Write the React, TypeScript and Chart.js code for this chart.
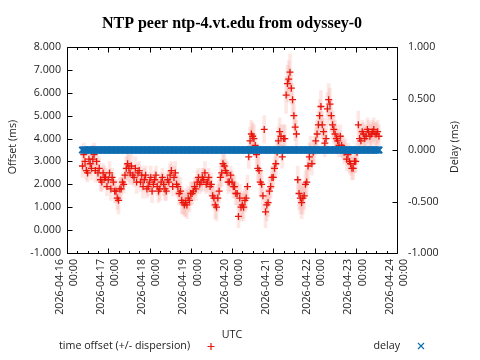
import React, { useEffect, useRef } from 'react';
import { Chart, registerables } from 'chart.js';

Chart.register(...registerables);

const chartTitle = 'NTP peer ntp-4.vt.edu from odyssey-0';
const dayLabels = ['2026-04-16', '2026-04-17', '2026-04-18', '2026-04-19', '2026-04-20', '2026-04-21', '2026-04-22', '2026-04-23', '2026-04-24'];
const timeLabel = '00:00';
const offsetTitle = 'Offset (ms)';
const delayTitle = 'Delay (ms)';
const xTitle = 'UTC';
const offsetLegend = 'time offset (+/- dispersion)';
const delayLegend = 'delay';

// samples: first at 2026-04-16 09:00, every 45 minutes (hours since 04-16 00:00)
const firstSampleHour = 9;
const sampleStepHours = 0.75;

const offsetMs = [
  2.8, 3.3, 3.0, 2.6, 2.5, 3.1, 2.9, 2.7, 3.1, 3.3,
  2.6, 3.0, 2.5, 2.7, 2.2, 2.1, 2.5, 2.3, 2.3, 1.9,
  2.2, 2.5, 1.8, 2.3, 2.1, 1.7, 1.7, 1.4, 1.3, 1.8,
  1.8, 2.1, 2.0, 2.4, 2.7, 2.9, 2.7, 2.5, 2.8, 2.4,
  2.3, 2.7, 2.1, 2.5, 2.6, 2.1, 2.4, 1.9, 2.2, 2.4,
  1.8, 1.9, 2.1, 2.3, 1.7, 2.0, 2.2, 2.4, 1.9, 1.7,
  1.8, 2.1, 2.3, 2.0, 1.8, 1.7, 2.2, 2.1, 2.4, 2.6,
  1.9, 2.3, 2.5, 2.0, 1.9, 1.6, 1.7, 1.3, 1.2, 1.1,
  1.2, 1.1, 1.4, 1.3, 1.6, 1.6, 1.7, 1.9, 1.8, 2.1,
  2.3, 2.0, 2.1, 2.3, 2.2, 2.5, 2.0, 2.1, 2.3, 1.9,
  2.0, 1.5, 1.4, 1.1, 1.0, 1.4, 1.7, 2.3, 2.5, 2.9,
  2.8, 2.6, 2.5, 2.1, 2.1, 2.4, 2.1, 1.9, 1.9, 1.6,
  1.6, 0.6, 1.4, 1.0, 1.1, 1.0, 1.3, 1.4, 1.9, 3.2,
  3.9, 4.2, 4.1, 4.0, 3.7, 3.3, 2.7, 2.6, 2.1, 2.0,
  1.5, 4.4, 0.8, 1.1, 1.2, 1.7, 1.9, 2.3, 2.3, 2.7,
  2.9, 3.4, 3.9, 4.3, 4.1, 3.2, 4.0, 4.0, 5.9, 6.4,
  6.6, 6.9, 6.2, 5.7, 5.0, 4.5, 4.2, 2.2, 1.6, 1.4,
  1.2, 1.4, 1.5, 2.0, 2.1, 2.8, 3.2, 3.5, 2.9, 3.4,
  3.5, 3.9, 4.2, 4.6, 5.0, 5.4, 4.6, 4.3, 3.8, 4.0,
  5.3, 5.7, 5.5, 5.0, 4.6, 4.4, 4.2, 4.0, 3.9, 3.7,
  4.1, 3.7, 3.6, 3.4, 3.5, 3.1, 3.3, 3.0, 2.9, 2.7,
  2.7, 3.0, 3.0, 3.4, 4.6, 4.0, 3.9, 4.3, 4.2, 4.0,
  4.1, 4.4, 4.3, 4.1, 4.2, 4.3, 4.4, 4.2, 4.2, 4.3,
  4.1,
];

const dispersionMs = [
  0.5, 0.5, 0.5, 0.4, 0.4, 0.5, 0.5, 0.5, 0.6, 0.5,
  0.5, 0.4, 0.4, 0.5, 0.5, 0.4, 0.4, 0.5, 0.4, 0.4,
  0.4, 0.5, 0.5, 0.4, 0.4, 0.5, 0.5, 0.5, 0.6, 0.5,
  0.5, 0.4, 0.4, 0.5, 0.5, 0.6, 0.6, 0.5, 0.5, 0.4,
  0.4, 0.5, 0.5, 0.4, 0.4, 0.4, 0.4, 0.5, 0.5, 0.4,
  0.4, 0.4, 0.4, 0.5, 0.5, 0.4, 0.4, 0.4, 0.4, 0.5,
  0.5, 0.4, 0.4, 0.5, 0.5, 0.4, 0.4, 0.5, 0.5, 0.4,
  0.4, 0.5, 0.5, 0.5, 0.5, 0.5, 0.6, 0.6, 0.5, 0.5,
  0.6, 0.6, 0.5, 0.5, 0.5, 0.5, 0.4, 0.4, 0.5, 0.5,
  0.4, 0.4, 0.4, 0.4, 0.5, 0.5, 0.4, 0.4, 0.4, 0.4,
  0.5, 0.5, 0.5, 0.6, 0.6, 0.6, 0.5, 0.5, 0.6, 0.6,
  0.5, 0.5, 0.5, 0.5, 0.4, 0.4, 0.5, 0.5, 0.5, 0.5,
  0.5, 0.5, 0.6, 0.6, 0.6, 0.6, 0.5, 0.5, 0.5, 0.5,
  0.6, 0.6, 0.6, 0.6, 0.5, 0.5, 0.6, 0.6, 0.6, 0.6,
  0.6, 0.6, 0.7, 0.7, 0.6, 0.6, 0.5, 0.5, 0.5, 0.5,
  0.6, 0.6, 0.6, 0.6, 0.5, 0.5, 0.6, 0.6, 0.8, 0.8,
  0.8, 0.8, 0.7, 0.7, 0.6, 0.6, 0.6, 0.6, 0.7, 0.7,
  0.7, 0.7, 0.6, 0.6, 0.6, 0.6, 0.6, 0.6, 0.5, 0.5,
  0.6, 0.6, 0.6, 0.6, 0.7, 0.7, 0.6, 0.6, 0.6, 0.6,
  0.7, 0.7, 0.7, 0.7, 0.6, 0.6, 0.6, 0.6, 0.5, 0.5,
  0.5, 0.5, 0.5, 0.5, 0.5, 0.5, 0.5, 0.5, 0.5, 0.5,
  0.5, 0.5, 0.5, 0.5, 0.6, 0.6, 0.5, 0.5, 0.5, 0.5,
  0.5, 0.5, 0.5, 0.5, 0.5, 0.5, 0.5, 0.5, 0.5, 0.5,
  0.5,
];

const delayMs = [
  0, 0, 0, 0, 0, 0, 0, 0, 0, 0, 0, 0, 0, 0, 0, 0, 0, 0, 0, 0,
  0, 0, 0, 0, 0, 0, 0, 0, 0, 0, 0, 0, 0, 0, 0, 0, 0, 0, 0, 0,
  0, 0, 0, 0, 0, 0, 0, 0, 0, 0, 0, 0, 0, 0, 0, 0, 0, 0, 0, 0,
  0, 0, 0, 0, 0, 0, 0, 0, 0, 0, 0, 0, 0, 0, 0, 0, 0, 0, 0, 0,
  0, 0, 0, 0, 0, 0, 0, 0, 0, 0, 0, 0, 0, 0, 0, 0, 0, 0, 0, 0,
  0, 0, 0, 0, 0, 0, 0, 0, 0, 0, 0, 0, 0, 0, 0, 0, 0, 0, 0, 0,
  0, 0, 0, 0, 0, 0, 0, 0, 0, 0, 0, 0, 0, 0, 0, 0, 0, 0, 0, 0,
  0, 0, 0, 0, 0, 0, 0, 0, 0, 0, 0, 0, 0, 0, 0, 0, 0, 0, 0, 0,
  0, 0, 0, 0, 0, 0, 0, 0, 0, 0, 0, 0, 0, 0, 0, 0, 0, 0, 0, 0,
  0, 0, 0, 0, 0, 0, 0, 0, 0, 0, 0, 0, 0, 0, 0, 0, 0, 0, 0, 0,
  0, 0, 0, 0, 0, 0, 0, 0, 0, 0, 0, 0, 0, 0, 0, 0, 0, 0, 0, 0,
  0, 0, 0, 0, 0, 0, 0, 0, 0, 0, 0,
];

const RED = '#e8160c';
const BLUE = '#0f6db0';
const TEXT = '#222';
const FONT = 'Open Sans';
const FONT_SIZE = 10.7;

const decorPlugin = {
  id: 'decor',
  afterDraw(chart: any) {
    const { ctx, chartArea: a, scales } = chart;
    const L = Math.round(a.left) + 0.5;
    const R = Math.round(a.right) + 0.5;
    const T = Math.round(a.top) + 0.5;
    const B = Math.round(a.bottom) + 0.5;
    ctx.save();
    ctx.strokeStyle = '#000';
    ctx.lineWidth = 1;
    ctx.beginPath();
    ctx.rect(L, T, R - L, B - T);
    const seg = (x1: number, y1: number, x2: number, y2: number) => {
      ctx.moveTo(x1, y1);
      ctx.lineTo(x2, y2);
    };
    const xs = scales.x;
    for (let h = xs.min; h <= xs.max; h += 6) {
      const px = Math.round(xs.getPixelForValue(h)) + 0.5;
      const len = h % 24 === 0 ? 5 : 2.5;
      seg(px, B, px, B - len);
      seg(px, T, px, T + len);
    }
    const ys = scales.y;
    for (let v = ys.min; v <= ys.max + 1e-9; v += 1) {
      const py = Math.round(ys.getPixelForValue(v)) + 0.5;
      seg(L, py, L + 5, py);
    }
    const y2 = scales.y2;
    for (let v = y2.min; v <= y2.max + 1e-9; v += 0.5) {
      const py = Math.round(y2.getPixelForValue(v)) + 0.5;
      seg(R, py, R - 5, py);
    }
    ctx.stroke();

    // title
    ctx.fillStyle = '#000';
    ctx.font = 'bold 16px "Liberation Serif"';
    ctx.textAlign = 'center';
    ctx.textBaseline = 'alphabetic';
    const cx = (a.left + a.right) / 2;
    ctx.fillText(chartTitle, cx, 28);

    // axis titles
    ctx.fillStyle = TEXT;
    ctx.font = `${FONT_SIZE}px "${FONT}"`;
    ctx.textBaseline = 'middle';
    ctx.save();
    ctx.translate(13, 147);
    ctx.rotate(-Math.PI / 2);
    ctx.fillText(offsetTitle, 0, 0);
    ctx.restore();
    ctx.save();
    ctx.translate(455, 147);
    ctx.rotate(-Math.PI / 2);
    ctx.fillText(delayTitle, 0, 0);
    ctx.restore();
    ctx.fillText(xTitle, cx, 335);

    // legend
    ctx.textAlign = 'left';
    ctx.fillText(offsetLegend, 59, 346);
    ctx.textAlign = 'right';
    ctx.fillText(delayLegend, 400, 346);
    ctx.lineWidth = 1.2;
    ctx.strokeStyle = RED;
    ctx.beginPath();
    seg(207.5, 346.5, 214.5, 346.5);
    seg(211, 343, 211, 350);
    ctx.stroke();
    ctx.strokeStyle = BLUE;
    ctx.beginPath();
    seg(418, 343, 424, 349);
    seg(424, 343, 418, 349);
    ctx.stroke();
    ctx.restore();
  },
};

export default function App() {
  const ref = useRef<HTMLCanvasElement | null>(null);
  useEffect(() => {
    if (!ref.current) return;
    const hours = offsetMs.map((_, i) => firstSampleHour + i * sampleStepHours);
    const chart = new Chart(ref.current, {
      type: 'scatter',
      data: {
        datasets: [
          {
            type: 'scatter',
            label: delayLegend,
            data: hours.map((h, i) => ({ x: h, y: delayMs[i] })),
            yAxisID: 'y2',
            pointStyle: 'crossRot',
            pointRadius: 4.5,
            borderColor: BLUE,
            backgroundColor: BLUE,
            pointBorderWidth: 2.2,
            order: 0,
          } as any,
          {
            type: 'scatter',
            label: offsetLegend,
            data: hours.map((h, i) => ({ x: h, y: offsetMs[i] })),
            yAxisID: 'y',
            pointStyle: 'cross',
            pointRadius: 3.5,
            borderColor: RED,
            backgroundColor: RED,
            pointBorderWidth: 1.3,
            order: 1,
          } as any,
          {
            type: 'bar',
            label: 'dispersion',
            data: hours.map((h, i) => ({ x: h, y: [offsetMs[i] - dispersionMs[i], offsetMs[i] + dispersionMs[i]] })),
            yAxisID: 'y',
            backgroundColor: 'rgba(240, 110, 100, 0.16)',
            borderWidth: 0,
            barThickness: 3,
            grouped: false,
            order: 2,
          } as any,
        ],
      },
      options: {
        responsive: false,
        animation: false,
        layout: { padding: { top: 47, left: 0, right: 0, bottom: 0 } },
        plugins: { legend: { display: false }, tooltip: { enabled: false }, title: { display: false } },
        scales: {
          x: {
            type: 'linear',
            position: 'bottom',
            min: 0,
            max: 192,
            offset: false,
            grid: { display: false, drawTicks: false },
            border: { display: false },
            ticks: {
              stepSize: 24,
              autoSkip: false,
              minRotation: 90,
              maxRotation: 90,
              padding: 6,
              labelOffset: -7.5,
              color: TEXT,
              font: { family: FONT, size: FONT_SIZE, lineHeight: 1.35 },
              callback: (v: any) => (Number(v) % 24 === 0 ? [dayLabels[Number(v) / 24], timeLabel] : ''),
            },
            afterFit: (s: any) => { s.height = 107; },
          },
          y: {
            type: 'linear',
            position: 'left',
            min: -1,
            max: 8,
            grid: { display: false, drawTicks: false },
            border: { display: false },
            ticks: {
              stepSize: 1,
              padding: 6,
              color: TEXT,
              font: { family: FONT, size: FONT_SIZE },
              callback: (v: any) => Number(v).toFixed(3),
            },
            afterFit: (s: any) => { s.width = 67; },
          },
          y2: {
            type: 'linear',
            position: 'right',
            min: -1,
            max: 1,
            grid: { display: false, drawTicks: false },
            border: { display: false },
            ticks: {
              stepSize: 0.5,
              padding: 11,
              color: TEXT,
              font: { family: FONT, size: FONT_SIZE },
              callback: (v: any) => Number(v).toFixed(3),
            },
            afterFit: (s: any) => { s.width = 83; },
          },
        },
      },
      plugins: [decorPlugin],
    } as any);
    return () => chart.destroy();
  }, []);
  return (
    <div style={{ position: 'absolute', left: 0, top: 0, width: 480, height: 360, background: '#fff' }}>
      <canvas ref={ref} width={480} height={360} />
    </div>
  );
}
